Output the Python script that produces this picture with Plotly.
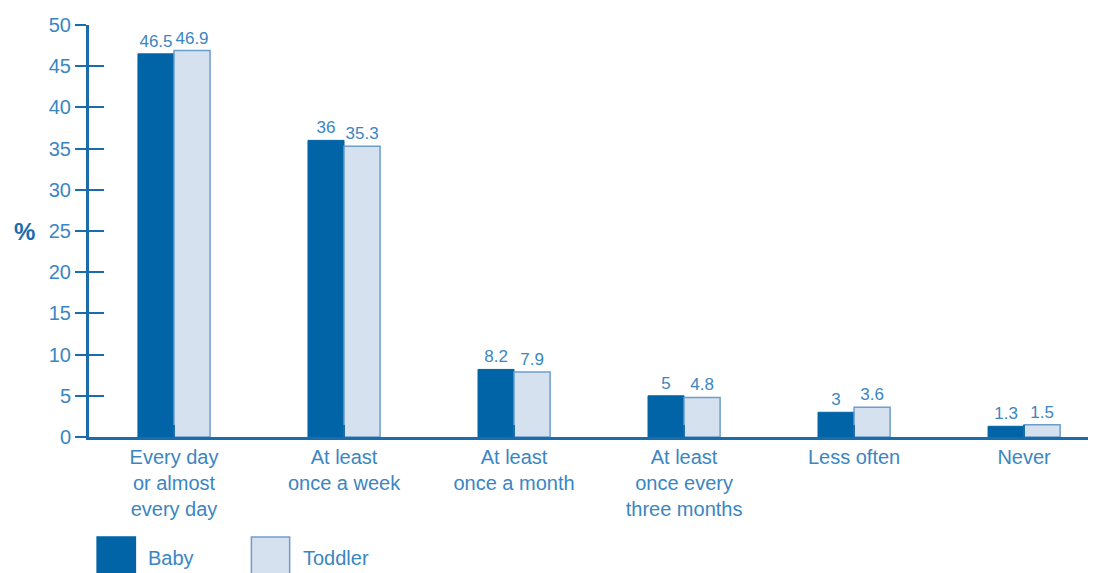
import plotly.graph_objects as go

categories = ["Every day<br>or almost<br>every day", "At least<br>once a week", "At least<br>once a month",
              "At least<br>once every<br>three months", "Less often", "Never"]
baby = [46.5, 36, 8.2, 5, 3, 1.3]
toddler = [46.9, 35.3, 7.9, 4.8, 3.6, 1.5]
y_ticks = [0, 5, 10, 15, 20, 25, 30, 35, 40, 45, 50]

DARK = "#0064a6"
LIGHT = "#d6e1ef"
LIGHT_EDGE = "#6d9ecb"
AXIS = "#1b6cab"
TXT = "#3a86c2"
FONT = "Liberation Sans, Arial, sans-serif"

fig = go.Figure()
fig.add_trace(go.Bar(
    x=list(range(len(categories))), y=baby, name="Baby",
    marker=dict(color=DARK, line=dict(color=DARK, width=1)),
    text=[f"{v:g}" for v in baby], textposition="outside",
    textfont=dict(size=17, color=TXT, family=FONT), cliponaxis=False
))
fig.add_trace(go.Bar(
    x=list(range(len(categories))), y=toddler, name="Toddler",
    marker=dict(color=LIGHT, line=dict(color=LIGHT_EDGE, width=1.5)),
    text=[f"{v:g}" for v in toddler], textposition="outside",
    textfont=dict(size=17, color=TXT, family=FONT), cliponaxis=False
))

# page body has an 8px margin, so margins are offset by that
fig.update_layout(
    width=1096, height=573,
    margin=dict(l=81, r=0, t=17, b=144),
    paper_bgcolor="white", plot_bgcolor="white",
    barmode="group", bargap=0.576, bargroupgap=0,
    showlegend=False,
    font=dict(family=FONT, size=20, color=TXT),
    xaxis=dict(
        range=[-0.5, 5.47],
        tickmode="array", tickvals=list(range(len(categories))), ticktext=categories,
        tickson="boundaries", ticks="inside", ticklen=12, tickwidth=1.5, tickcolor=AXIS,
        showline=True, linecolor=AXIS, linewidth=3,
        showgrid=False, zeroline=False,
        tickfont=dict(size=20, color=TXT),
    ),
    yaxis=dict(
        range=[0, 50], tickvals=y_ticks,
        ticks="outside", ticklen=11, tickwidth=1.5, tickcolor=AXIS,
        showline=True, linecolor=AXIS, linewidth=3,
        showgrid=False, zeroline=False,
        tickfont=dict(size=20, color=TXT),
    ),
    yaxis2=dict(
        range=[0, 50], tickvals=y_ticks, overlaying="y", side="left",
        ticks="inside", ticklen=15, tickwidth=1.5, tickcolor=AXIS,
        showticklabels=False, showgrid=False, zeroline=False, showline=False,
    ),
)

# dummy trace to activate the second y axis for inner tick marks
fig.add_trace(go.Scatter(x=[None], y=[None], yaxis="y2", showlegend=False, hoverinfo="skip"))

fig.add_annotation(text="<b>%</b>", xref="paper", yref="y", x=-0.076, y=25,
                   showarrow=False, font=dict(size=24, color=AXIS))

# legend boxes (paper width is now 1015px)
legend_items = [("Baby", DARK, DARK, 0.008), ("Toddler", LIGHT, LIGHT_EDGE, 0.16)]
for label, fill, edge, x0 in legend_items:
    fig.add_shape(type="rect", xref="paper", yref="paper",
                  x0=x0, x1=x0 + 0.0377, y0=-0.36, y1=-0.243,
                  fillcolor=fill, line=dict(color=edge, width=1.5))
    fig.add_annotation(text=label, xref="paper", yref="paper", x=x0 + 0.0486, y=-0.294,
                       xanchor="left", yanchor="middle", showarrow=False,
                       font=dict(size=20, color=TXT))

fig.write_html("out.html")
